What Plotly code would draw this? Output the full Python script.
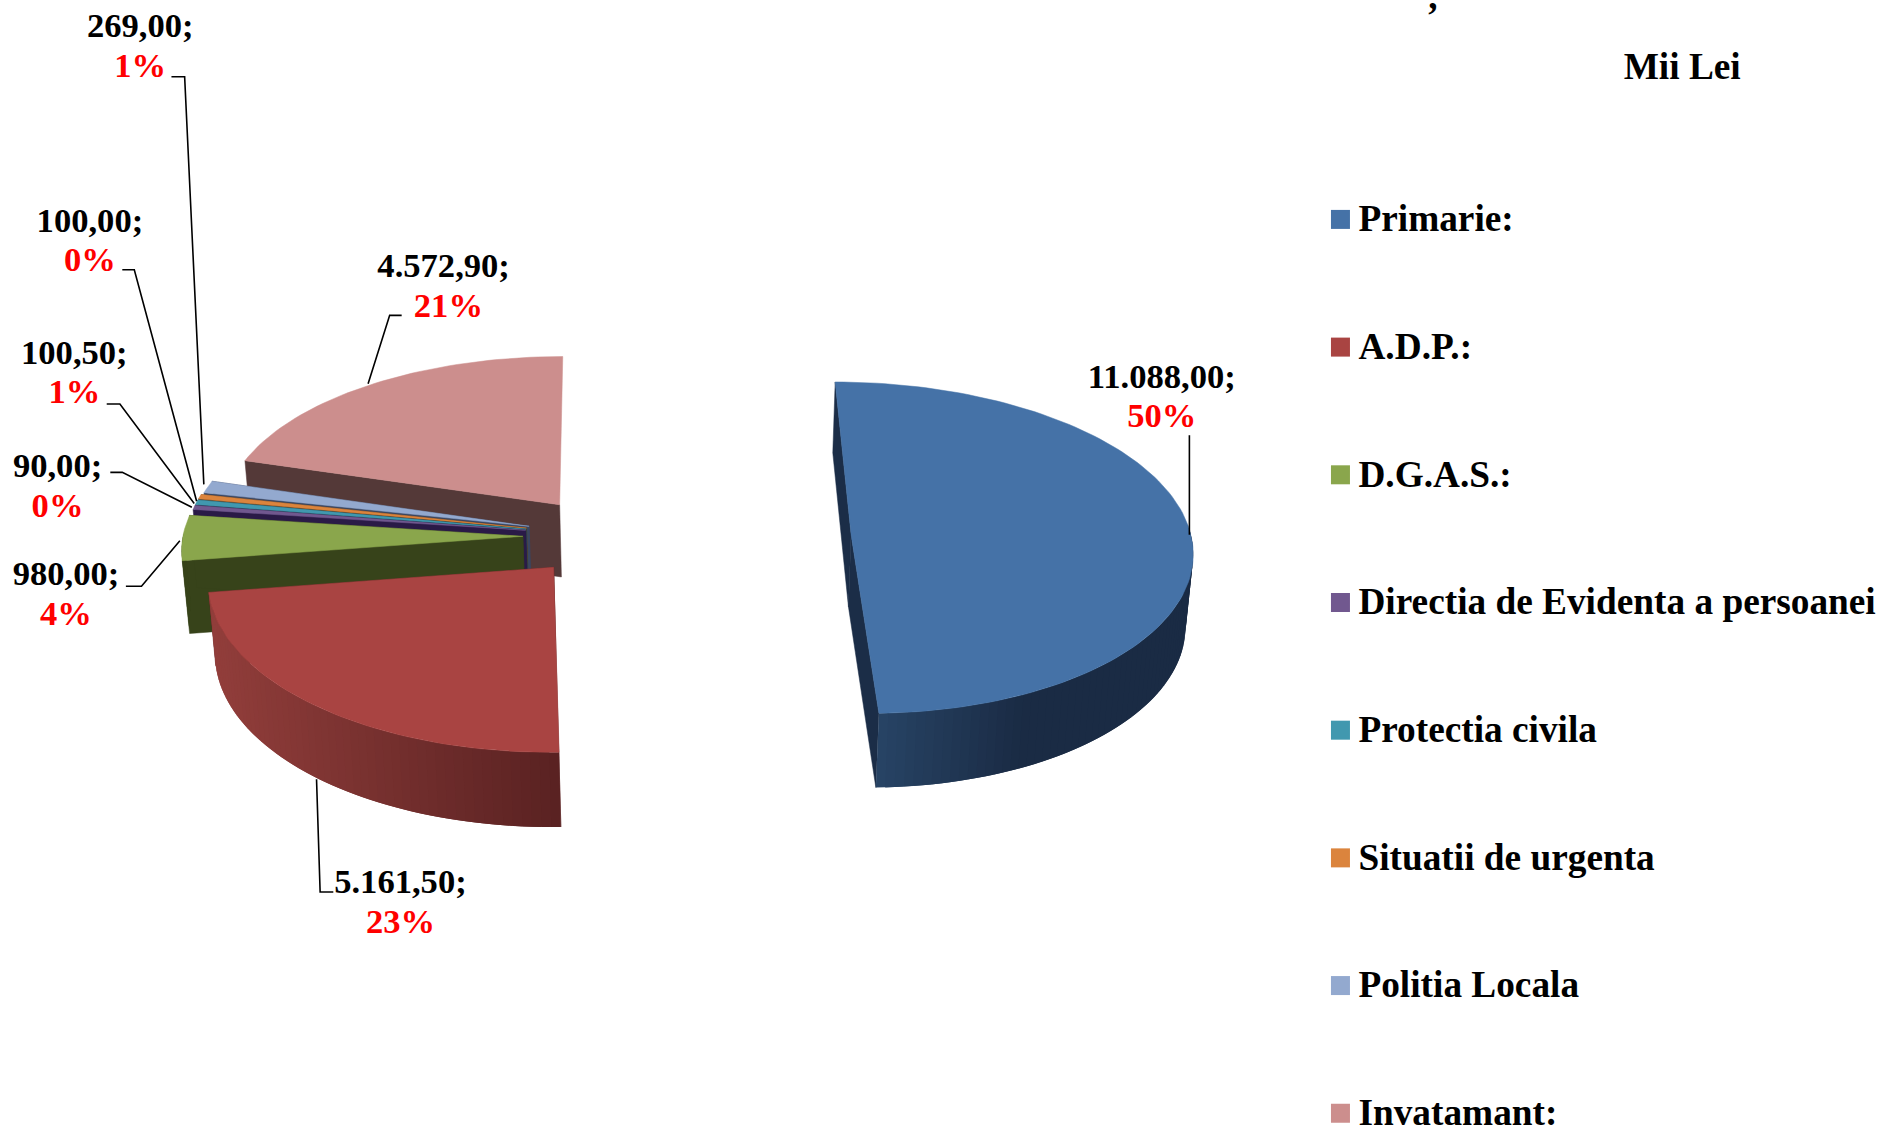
import math
import plotly.graph_objects as go

# ---------- data ----------
categories = ["Primarie:", "A.D.P.:", "D.G.A.S.:", "Directia de Evidenta a persoanei",
              "Protectia civila", "Situatii de urgenta", "Politia Locala", "Invatamant:"]
values = [11088.00, 5161.50, 980.00, 90.00, 100.50, 100.00, 269.00, 4572.90]
value_labels = ["11.088,00;", "5.161,50;", "980,00;", "90,00;", "100,50;", "100,00;", "269,00;", "4.572,90;"]
percent_labels = ["50%", "23%", "4%", "0%", "1%", "0%", "1%", "21%"]
top_colors = ["#4572A7", "#A94442", "#8AA64C", "#71588F", "#4198AF", "#DB843D", "#93A9CF", "#CC8E8D"]
face_colors = ["#1B2D47", "#5E2424", "#37431A", "#2A1A47", "#1D4C5A", "#5c3a1c", "#3a4660", "#543938"]
wall_light = ["#274364", "#923E3B", "#37431A", "#2A1A47", "#1D4C5A", "#5c3a1c", "#3a4660", "#543938"]
wall_dark = ["#1A2B44", "#5A2222", "#37431A", "#2A1A47", "#1D4C5A", "#5c3a1c", "#3a4660", "#543938"]
pulls = [0.716, 0.245, 0.25, 0.245, 0.245, 0.245, 0.24, 0.24]
draw_order = [7, 6, 5, 4, 3, 2, 1, 0]

# ---------- geometry of the picture (full-size pixels) ----------
S = 1880 / 1568
X0, Y0 = 507 * S, 447 * S
A, B = 283.5 * S, 137.5 * S
KX, KY = 0.07, 0.08
DEPTH = 60.5 * S
WALL_C, WALL_R = 564 * S, 0.985

label_pos = [(969, 316), (334, 738), (55, 481), (48, 391), (62, 296), (75, 186), (117, 24), (370, 224)]
pct_pos = [(969, 349), (334, 771), (55, 514), (48, 424), (62, 329), (75, 219), (117, 57), (374, 257)]
leaders = [
    [(992, 363), (992, 446)],
    [(264, 650), (267, 744), (278, 744)],
    [(105, 489), (118, 489), (150, 451)],
    [(92, 394), (102, 394), (160, 423)],
    [(89, 337), (100, 337), (162, 420)],
    [(102, 225), (112, 225), (164, 418)],
    [(143, 64), (154, 64), (170, 404)],
    [(335, 263), (325, 263), (307, 320)],
]
legend_y = [185, 291.5, 398, 504.5, 611, 717.5, 824, 930.5]
square_y = [183, 289.5, 396, 502.5, 609, 715.5, 822, 928.5]
FONT = "Liberation Serif"


def hexmix(c1, c2, t):
    a = [int(c1[i:i + 2], 16) for i in (1, 3, 5)]
    b = [int(c2[i:i + 2], 16) for i in (1, 3, 5)]
    return "rgb(%d,%d,%d)" % tuple(round(x + (y - x) * t) for x, y in zip(a, b))


def project(u, v):
    return X0 + A * u / (1 - KX * v), Y0 + B * v / (1 - KY * v)


def lower(p, v):
    x, y = p
    return WALL_C + (x - WALL_C) * WALL_R, y + DEPTH * (1 / (1 - KY * v)) ** 0.3


fig = go.Figure()


def poly(xs, ys, color, lw=0.5):
    fig.add_trace(go.Scatter(x=xs, y=ys, mode="lines", fill="toself", fillcolor=color,
                             line=dict(color=color, width=lw), hoverinfo="skip", showlegend=False))


total = sum(values)
starts = []
acc = 0.0
for val in values:
    starts.append(acc)
    acc += val / total * 2 * math.pi

for i in draw_order:
    t0 = starts[i]
    t1 = t0 + values[i] / total * 2 * math.pi
    mid = (t0 + t1) / 2
    ou, ov = pulls[i] * math.sin(mid), -pulls[i] * math.cos(mid)
    n = max(4, int((t1 - t0) / math.radians(1.5)))
    ths = [t0 + (t1 - t0) * k / n for k in range(n + 1)]
    uv = [(ou + math.sin(t), ov - math.cos(t)) for t in ths]
    top = [project(u, v) for u, v in uv]
    bot = [lower(p, v) for p, (u, v) in zip(top, uv)]
    apex = project(ou, ov)
    apex_b = lower(apex, ov)
    # radial faces (the last slice's closing face looks away from the viewer)
    rims = [(top[0], bot[0])] if i == len(values) - 1 else [(top[0], bot[0]), (top[-1], bot[-1])]
    for rim, rim_b in rims:
        poly([apex[0], rim[0], rim_b[0], apex_b[0], apex[0]],
             [apex[1], rim[1], rim_b[1], apex_b[1], apex[1]], face_colors[i])
    # outer wall: overlapping segments, painted in order, so that no seams show
    vis = [k for k in range(n) if -math.cos((ths[k] + ths[k + 1]) / 2) > -0.02]
    if vis:
        xs_vis = [top[k][0] for k in vis]
        lo, hi = min(xs_vis), max(xs_vis)
        seq = vis if i != 0 else list(reversed(vis))
        for k in seq:
            t = (top[k][0] - lo) / max(hi - lo, 1)
            if i == 0:
                t = min(1.0, t * 2.2)
            c = hexmix(wall_light[i], wall_dark[i], t)
            # reach over the neighbour painted next
            j0, j1 = k, k + 1
            if i == 0:
                j0 = max(vis[0], k - 1)
            else:
                j1 = min(vis[-1] + 1, k + 2)
            xs = [p[0] for p in top[j0:j1 + 1]] + [p[0] for p in bot[j0:j1 + 1]][::-1]
            ys = [p[1] for p in top[j0:j1 + 1]] + [p[1] for p in bot[j0:j1 + 1]][::-1]
            poly(xs + xs[:1], ys + ys[:1], c, lw=0)
    # top face
    poly([apex[0]] + [p[0] for p in top] + [apex[0]],
         [apex[1]] + [p[1] for p in top] + [apex[1]], top_colors[i])

# leader lines
for pts in leaders:
    fig.add_trace(go.Scatter(x=[p[0] * S for p in pts], y=[p[1] * S for p in pts], mode="lines",
                             line=dict(color="black", width=1.6), hoverinfo="skip", showlegend=False))

# data labels
fig.add_trace(go.Scatter(x=[p[0] * S for p in label_pos], y=[p[1] * S for p in label_pos], mode="text",
                         text=value_labels, textposition="middle center", cliponaxis=False,
                         textfont=dict(family=FONT, size=34.6, color="black", weight="bold"),
                         hoverinfo="skip", showlegend=False))
fig.add_trace(go.Scatter(x=[p[0] * S for p in pct_pos], y=[p[1] * S for p in pct_pos], mode="text",
                         text=percent_labels, textposition="middle center", cliponaxis=False,
                         textfont=dict(family=FONT, size=34.6, color="red", weight="bold"),
                         hoverinfo="skip", showlegend=False))

# legend drawn as square markers with their names
fig.add_trace(go.Scatter(x=[1118 * S] * len(categories), y=[v * S for v in square_y], mode="markers",
                         marker=dict(symbol="square", size=19, color=top_colors),
                         hoverinfo="skip", showlegend=False))
fig.add_trace(go.Scatter(x=[1133 * S] * len(categories), y=[v * S for v in legend_y], mode="text",
                         text=categories, textposition="middle right", cliponaxis=False,
                         textfont=dict(family=FONT, size=37.3, color="black", weight="bold"),
                         hoverinfo="skip", showlegend=False))

# unit caption and the clipped punctuation at the top edge
fig.add_trace(go.Scatter(x=[1403 * S], y=[58 * S], mode="text", text=["Mii Lei"],
                         textposition="middle center",
                         textfont=dict(family=FONT, size=37.3, color="black", weight="bold"),
                         hoverinfo="skip", showlegend=False))
fig.add_trace(go.Scatter(x=[1195 * S], y=[0], mode="text", text=[","], textposition="middle center",
                         cliponaxis=False,
                         textfont=dict(family=FONT, size=37, color="black", weight="bold"),
                         hoverinfo="skip", showlegend=False))

fig.update_layout(width=1880, height=1127, margin=dict(l=0, r=0, t=0, b=0),
                  paper_bgcolor="white", plot_bgcolor="white", showlegend=False,
                  xaxis=dict(range=[0, 1880], visible=False, fixedrange=True),
                  yaxis=dict(range=[1127, 0], visible=False, fixedrange=True))
fig.write_html("out.html", config={"displayModeBar": False},
               post_script="document.body.style.margin='0';document.body.style.overflow='hidden';window.dispatchEvent(new Event('resize'));")
